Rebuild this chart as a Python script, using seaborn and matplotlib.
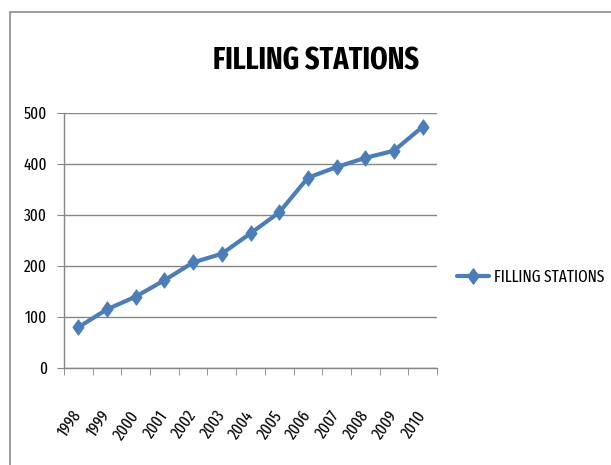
import matplotlib
matplotlib.use("Agg")
import matplotlib.pyplot as plt
import seaborn as sns
import pandas as pd
import numpy as np
from matplotlib.patches import Rectangle
from matplotlib.lines import Line2D
from matplotlib.path import Path

years = ["1998", "1999", "2000", "2001", "2002", "2003", "2004",
         "2005", "2006", "2007", "2008", "2009", "2010"]
stations = [80, 115, 140, 172, 207, 224, 264, 305, 373, 394, 412, 426, 473]
series_name = "FILLING STATIONS"
title = "FILLING STATIONS"
y_ticks = [0, 100, 200, 300, 400, 500]

sns.set_style("white")
FONT = ['Fira Sans Extra Condensed', 'DejaVu Sans']
plt.rcParams['font.family'] = FONT
plt.rcParams['text.color'] = 'black'
plt.rcParams['xtick.color'] = 'black'
plt.rcParams['ytick.color'] = 'black'

df = pd.DataFrame({"year": years, "value": stations})
df["pos"] = np.arange(len(years))

fig = plt.figure(figsize=(6.11, 4.65), dpi=100)
ax = fig.add_axes([64/611, 1-368/465, (437-64)/611, (368-113)/465])

color = "#4A7EBB"
diamond = Path([(0, 1), (0.72, 0), (0, -1), (-0.72, 0), (0, 1)],
               [Path.MOVETO, Path.LINETO, Path.LINETO, Path.LINETO, Path.CLOSEPOLY])
sns.lineplot(data=df, x="pos", y="value", ax=ax, color=color, linewidth=3,
             marker=diamond, markersize=11, markeredgecolor=color, markerfacecolor=color,
             legend=False)

ax.set_xlim(-0.5, len(years) - 0.5)
ax.set_ylim(0, 500)
ax.set_yticks(y_ticks)
ax.set_yticklabels([str(t) for t in y_ticks], fontsize=12)
ax.set_xticks(np.arange(len(years)))
ax.set_xticklabels(years, rotation=55, fontsize=12, ha="right", va="center",
                   rotation_mode="anchor")
ax.set_xticks(np.arange(len(years) + 1) - 0.5, minor=True)
ax.tick_params(axis="x", which="major", length=0, pad=32)
ax.tick_params(axis="x", which="minor", length=5, color="#868686", direction="out", bottom=True)
ax.tick_params(axis="y", which="major", length=5, color="#868686", direction="out", left=True, pad=7)
ax.set_xlabel("")
ax.set_ylabel("")

ax.yaxis.grid(True, color="#868686", linewidth=1)
ax.xaxis.grid(False)
ax.set_axisbelow(True)
for s in ["top", "right"]:
    ax.spines[s].set_visible(False)
for s in ["left", "bottom"]:
    ax.spines[s].set_color("#868686")
    ax.spines[s].set_linewidth(1)

fig.text(316/611, 1-70/465, title, ha="center", va="baseline", fontsize=22,
         fontweight="bold")

handle = Line2D([], [], color=color, linewidth=3, marker=diamond, markersize=11,
                markerfacecolor=color, markeredgecolor=color)
fig.legend([handle], [series_name], loc="center left",
           bbox_to_anchor=(452/611, 1-277/465), frameon=False, fontsize=12,
           handlelength=1.9, handletextpad=0.3, borderaxespad=0, borderpad=0.3)

border = Rectangle((10/611, -0.1), 1.2, 1 - 12/465 + 0.1, transform=fig.transFigure,
                   fill=False, edgecolor="#8c8c8c", linewidth=1.2)
fig.patches.append(border)

fig.savefig("out.png", dpi=100)
